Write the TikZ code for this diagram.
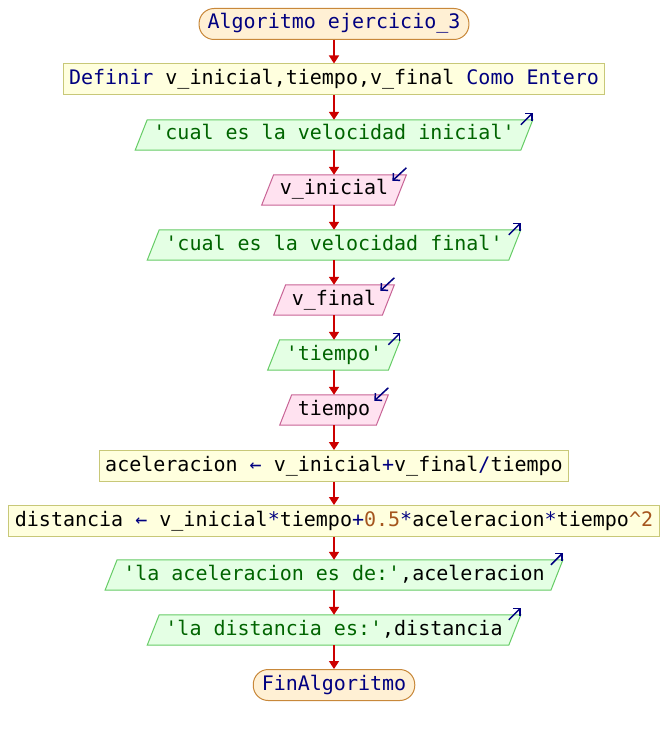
\documentclass[tikz,border=0pt]{standalone}
\usepackage{fontspec}
\setmonofont{DejaVu Sans Mono}
\usetikzlibrary{arrows.meta,backgrounds,calc}
\definecolor{kw}{RGB}{0,0,128}
\definecolor{str}{RGB}{0,100,0}
\definecolor{num}{RGB}{165,85,30}
\definecolor{termfill}{RGB}{255,240,212}
\definecolor{termdraw}{RGB}{200,136,58}
\definecolor{procfill}{RGB}{255,255,222}
\definecolor{procdraw}{RGB}{200,200,120}
\definecolor{outfill}{RGB}{228,255,228}
\definecolor{outdraw}{RGB}{102,204,102}
\definecolor{infill}{RGB}{255,226,240}
\definecolor{indraw}{RGB}{200,100,150}
\definecolor{flowred}{RGB}{204,0,0}
\begin{document}
\begin{tikzpicture}[x=1pt,y=-1pt,
  font=\fontsize{20}{24}\selectfont\ttfamily,
  term/.style={draw=termdraw,fill=termfill,rounded corners=15pt,line width=1pt,
    minimum height=31pt,inner xsep=8.5pt,inner ysep=0pt,text height=14pt,text depth=4pt,text=kw},
  proc/.style={draw=procdraw,fill=procfill,line width=1pt,
    minimum height=31pt,inner xsep=6pt,inner ysep=0pt,text height=14pt,text depth=4pt},
  iotxt/.style={minimum height=30pt,inner xsep=12pt,inner ysep=0pt,text height=14pt,text depth=4pt},
  flow/.style={draw=flowred,line width=1.6pt,-{Triangle[length=8pt,width=10pt]}},
  cornerarr/.style={draw=kw,line width=1.5pt,-{Straight Barb[length=5pt,width=10pt]}},
  outpara/.style={fill=outfill,draw=outdraw,line width=1pt},
  inpara/.style={fill=infill,draw=indraw,line width=1pt}]
\useasboundingbox (0,0) rectangle (668,735);

\node[term] (start) at (334,24) {Algoritmo ejercicio\_3};
\node[proc] (def) at (334,79.5) {{\color{kw}Definir} v\_inicial,tiempo,v\_final {\color{kw}Como Entero}};
\node[iotxt] (o1) at (334,135) {{\color{str}\textquotesingle cual es la velocidad inicial\textquotesingle}};
\node[iotxt] (i1) at (334,190) {v\_inicial};
\node[iotxt] (o2) at (334,245) {{\color{str}\textquotesingle cual es la velocidad final\textquotesingle}};
\node[iotxt] (i2) at (334,300) {v\_final};
\node[iotxt] (o3) at (334,355) {{\color{str}\textquotesingle tiempo\textquotesingle}};
\node[iotxt] (i3) at (334,410) {tiempo};
\node[proc] (p1) at (334,466) {aceleracion {\color{kw}←} v\_inicial{\color{kw}+}v\_final{\color{kw}/}tiempo};
\node[proc] (p2) at (334,521) {distancia {\color{kw}←} v\_inicial{\color{kw}*}tiempo{\color{kw}+}{\color{num}0.5}{\color{kw}*}aceleracion{\color{kw}*}tiempo{\color{num}\textasciicircum2}};
\node[iotxt] (o4) at (334,575) {{\color{str}\textquotesingle la aceleracion es de:\textquotesingle},aceleracion};
\node[iotxt] (o5) at (334,630) {{\color{str}\textquotesingle la distancia es:\textquotesingle},distancia};
\node[term] (fin) at (334,685) {FinAlgoritmo};

\begin{scope}[on background layer]
  \fill[white] (0,0) rectangle (668,735);
  \foreach \n in {o1,o2,o3,o4,o5} {
    \path[outpara] ($(\n.south west)+(-6,0)$) -- ($(\n.south east)+(-6,0)$) -- ($(\n.north east)+(6,0)$) -- ($(\n.north west)+(6,0)$) -- cycle;
  }
  \foreach \n in {i1,i2,i3} {
    \path[inpara] ($(\n.south west)+(-6,0)$) -- ($(\n.south east)+(-6,0)$) -- ($(\n.north east)+(6,0)$) -- ($(\n.north west)+(6,0)$) -- cycle;
  }
\end{scope}

\foreach \n in {o1,o2,o3,o4,o5} {
  \draw[cornerarr] ($(\n.north east)+(-6,5)$) -- ($(\n.north east)+(6,-7)$);
}
\foreach \n in {i1,i2,i3} {
  \draw[cornerarr] ($(\n.north east)+(6,-7)$) -- ($(\n.north east)+(-8,6)$);
}

\draw[flow] (start) -- (def);
\draw[flow] (def) -- (o1);
\draw[flow] (o1) -- (i1);
\draw[flow] (i1) -- (o2);
\draw[flow] (o2) -- (i2);
\draw[flow] (i2) -- (o3);
\draw[flow] (o3) -- (i3);
\draw[flow] (i3) -- (p1);
\draw[flow] (p1) -- (p2);
\draw[flow] (p2) -- (o4);
\draw[flow] (o4) -- (o5);
\draw[flow] (o5) -- (fin);
\end{tikzpicture}
\end{document}
